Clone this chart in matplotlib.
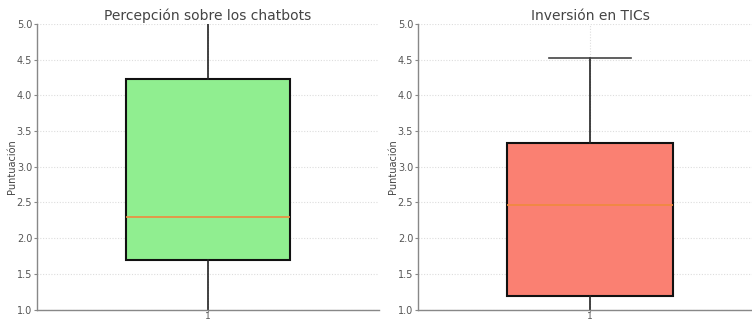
import matplotlib
matplotlib.use("Agg")
import matplotlib.pyplot as plt

# Five-number summaries (whisker low, Q1, median, Q3, whisker high)
titles = ["Percepción sobre los chatbots", "Inversión en TICs"]
whislo = [0.85, 0.85]
q1 = [1.70, 1.19]
medians = [2.30, 2.47]
q3 = [4.23, 3.33]
whishi = [5.20, 4.53]
face_colors = ["#90EE90", "#FA8072"]
y_label = "Puntuación"
y_limits = (1.0, 5.0)

fig = plt.figure(figsize=(7.52, 3.22), dpi=100)
W, H = 752, 322
positions = [(37, 342), (418, 344)]

for i, (x0, w) in enumerate(positions):
    ax = fig.add_axes([x0 / W, 12.5 / H, w / W, 285.5 / H])
    stats = [{
        "whislo": whislo[i], "q1": q1[i], "med": medians[i],
        "q3": q3[i], "whishi": whishi[i], "fliers": [], "label": "1",
    }]
    ax.bxp(stats, positions=[1], widths=0.48, patch_artist=True,
           boxprops=dict(facecolor=face_colors[i], edgecolor="#111111", linewidth=1.5),
           medianprops=dict(color="#f08a3c", linewidth=1.2),
           whiskerprops=dict(color="#222222", linewidth=1.2),
           capprops=dict(color="#444444", linewidth=1.2),
           capwidths=0.24)
    ax.set_xlim(0.5, 1.5)
    ax.set_ylim(*y_limits)
    ax.set_yticks([1.0, 1.5, 2.0, 2.5, 3.0, 3.5, 4.0, 4.5, 5.0])
    ax.grid(True, linestyle=(0, (1, 1.5)), color="#dddddd", linewidth=0.8)
    ax.set_axisbelow(True)
    for s in ("top", "right"):
        ax.spines[s].set_visible(False)
    for s in ("left", "bottom"):
        ax.spines[s].set_color("#888888")
        ax.spines[s].set_linewidth(1.0)
    ax.tick_params(axis="y", length=2, color="#888888", labelsize=7,
                   labelcolor="#555555", pad=1.5)
    ax.tick_params(axis="x", length=1.5, color="#888888", labelsize=6.5,
                   labelcolor="#555555", pad=0)
    ax.set_title(titles[i], fontsize=10, color="#444444", pad=3)
    ax.set_ylabel(y_label, fontsize=7, color="#444444", labelpad=0)

fig.savefig("out.png", dpi=100)
